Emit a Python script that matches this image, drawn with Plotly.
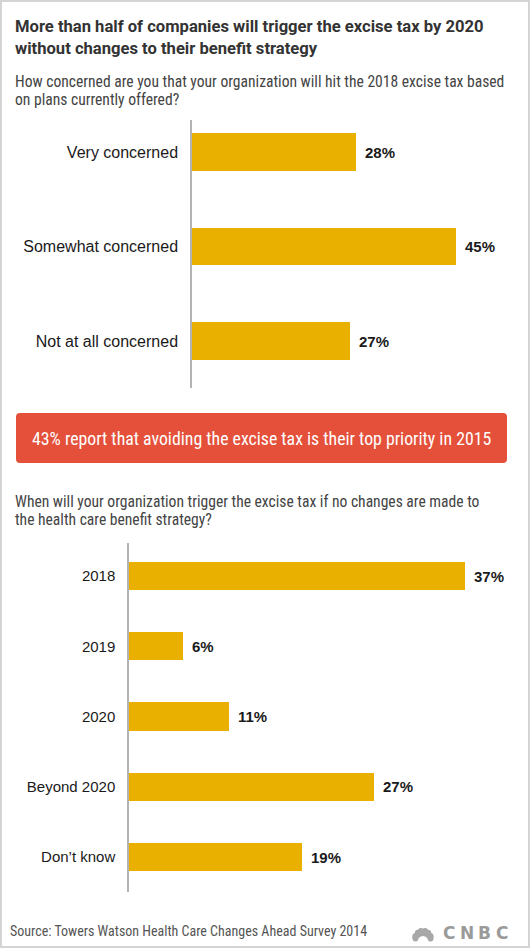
import math
import plotly.graph_objects as go

W, H = 530, 948

# ---- data ----
title_lines = ["More than half of companies will trigger the excise tax by 2020",
               "without changes to their benefit strategy"]
q1_lines = ["How concerned are you that your organization will hit the 2018 excise tax based",
            "on plans currently offered?"]
q1_categories = ["Very concerned", "Somewhat concerned", "Not at all concerned"]
q1_values = [28, 45, 27]

banner_text = "43% report that avoiding the excise tax is their top priority in 2015"

q2_lines = ["When will your organization trigger the excise tax if no changes are made to",
            "the health care benefit strategy?"]
q2_categories = ["2018", "2019", "2020", "Beyond 2020", "Don\u2019t know"]
q2_values = [37, 6, 11, 27, 19]

source_text = "Source: Towers Watson Health Care Changes Ahead Survey 2014"

BAR = "#EAB000"
RED = "#E4503A"
NARROW = "Liberation Sans Narrow, Arial Narrow, Roboto Condensed, Roboto, sans-serif"
BOLDFONT = "Roboto, Liberation Sans, Arial, sans-serif"
ARIAL = "Liberation Sans, Arial, sans-serif"


def px(x):
    return x / W


def py(y):
    return 1 - y / H


fig = go.Figure()

fig.add_trace(go.Bar(
    x=q1_values, y=q1_categories, orientation="h", marker=dict(color=BAR, line=dict(width=0)),
    width=0.4, xaxis="x", yaxis="y", hoverinfo="skip"))
fig.add_trace(go.Bar(
    x=q2_values, y=q2_categories, orientation="h", marker=dict(color=BAR, line=dict(width=0)),
    width=0.4, xaxis="x2", yaxis="y2", hoverinfo="skip"))

annotations = []
for i, v in enumerate(q1_values):
    annotations.append(dict(x=v, y=i, xref="x", yref="y", text=f"<b>{v}%</b>", showarrow=False,
                            xanchor="left", yanchor="middle", xshift=7,
                            font=dict(family=ARIAL, size=15, color="#1a1a1a")))
for i, v in enumerate(q2_values):
    annotations.append(dict(x=v, y=i, xref="x2", yref="y2", text=f"<b>{v}%</b>", showarrow=False,
                            xanchor="left", yanchor="middle", xshift=7,
                            font=dict(family=ARIAL, size=15, color="#1a1a1a")))


def line_ann(text, x, y, size, color, bold=False, anchor="left", family=NARROW):
    t = f"<b>{text}</b>" if bold else text
    annotations.append(dict(x=px(x), y=py(y), xref="paper", yref="paper", text=t, showarrow=False,
                            xanchor=anchor, yanchor="middle",
                            font=dict(family=family, size=size, color=color)))


line_ann(title_lines[0], 13, 26, 16.6, "#333333", bold=True, family=BOLDFONT)
line_ann(title_lines[1], 13, 49, 16.6, "#333333", bold=True, family=BOLDFONT)
line_ann(q1_lines[0], 13, 82.2, 15.6, "#444444")
line_ann(q1_lines[1], 13, 100.2, 15.6, "#444444")
line_ann(banner_text, 261, 438.5, 17.8, "#ffffff", anchor="center")
line_ann(q2_lines[0], 13, 502.2, 15.6, "#444444")
line_ann(q2_lines[1], 13, 520.2, 15.6, "#444444")
line_ann(source_text, 8, 930.5, 14, "#555555")

# CNBC wordmark (letters spaced individually)
for ch, cx in zip("CNBC", [449, 466.5, 484, 501.5]):
    line_ann(ch, cx, 933, 17, "#9a9a9a", bold=True, anchor="center",
             family="DejaVu Sans, Arial Black, sans-serif")

shapes = []
# outer border
shapes.append(dict(type="rect", xref="paper", yref="paper", x0=px(1), x1=px(529), y0=py(947), y1=py(1),
                   line=dict(color="#d4d4d4", width=2), fillcolor="rgba(0,0,0,0)", layer="above"))
# banner with rounded corners
x0, x1, y0, y1 = px(16), px(507), py(463), py(413)
rx, ry = px(4), 4 / H
path = (f"M {x0+rx},{y0} L {x1-rx},{y0} Q {x1},{y0} {x1},{y0+ry} "
        f"L {x1},{y1-ry} Q {x1},{y1} {x1-rx},{y1} L {x0+rx},{y1} Q {x0},{y1} {x0},{y1-ry} "
        f"L {x0},{y0+ry} Q {x0},{y0} {x0+rx},{y0} Z")
shapes.append(dict(type="path", xref="paper", yref="paper", path=path, fillcolor=RED,
                   line=dict(width=0), layer="below"))

# peacock feathers for logo
bx, by = 423, 940
for ang in [160, 130, 105, 75, 50, 20]:
    a = math.radians(ang)
    cx, cy = bx + 8 * math.cos(a), by - 8 * math.sin(a)
    shapes.append(dict(type="circle", xref="paper", yref="paper",
                       x0=px(cx - 3.2), x1=px(cx + 3.2), y0=py(cy + 4.2), y1=py(cy - 4.2),
                       fillcolor="#a8a8a8", line=dict(width=0)))

fig.update_layout(
    width=W, height=H, margin=dict(l=0, r=0, t=0, b=0),
    paper_bgcolor="white", plot_bgcolor="white", showlegend=False,
    bargap=0,
    xaxis=dict(domain=[px(192), 1], range=[0, (W - 192) / 5.86], visible=False, fixedrange=True),
    yaxis=dict(domain=[py(388), py(120)], range=[2.497, -0.339], type="category",
               showline=True, linecolor="#b3b3b3", linewidth=1.5, showgrid=False, zeroline=False,
               ticks="outside", ticklen=9, tickcolor="rgba(0,0,0,0)",
               tickfont=dict(family=ARIAL, size=16, color="#1a1a1a"), fixedrange=True),
    xaxis2=dict(domain=[px(129), 1], range=[0, (W - 129) / 9.08], visible=False, anchor="y2",
                fixedrange=True),
    yaxis2=dict(domain=[py(892), py(543)], range=[4.498, -0.47], type="category", anchor="x2",
                showline=True, linecolor="#b3b3b3", linewidth=1.5, showgrid=False, zeroline=False,
                ticks="outside", ticklen=9, tickcolor="rgba(0,0,0,0)",
                tickfont=dict(family=ARIAL, size=15, color="#1a1a1a"), fixedrange=True),
    annotations=annotations, shapes=shapes,
)

fig.write_html("out.html", config={"displayModeBar": False},
               post_script="document.body.style.margin='0';document.body.style.overflow='hidden';")
